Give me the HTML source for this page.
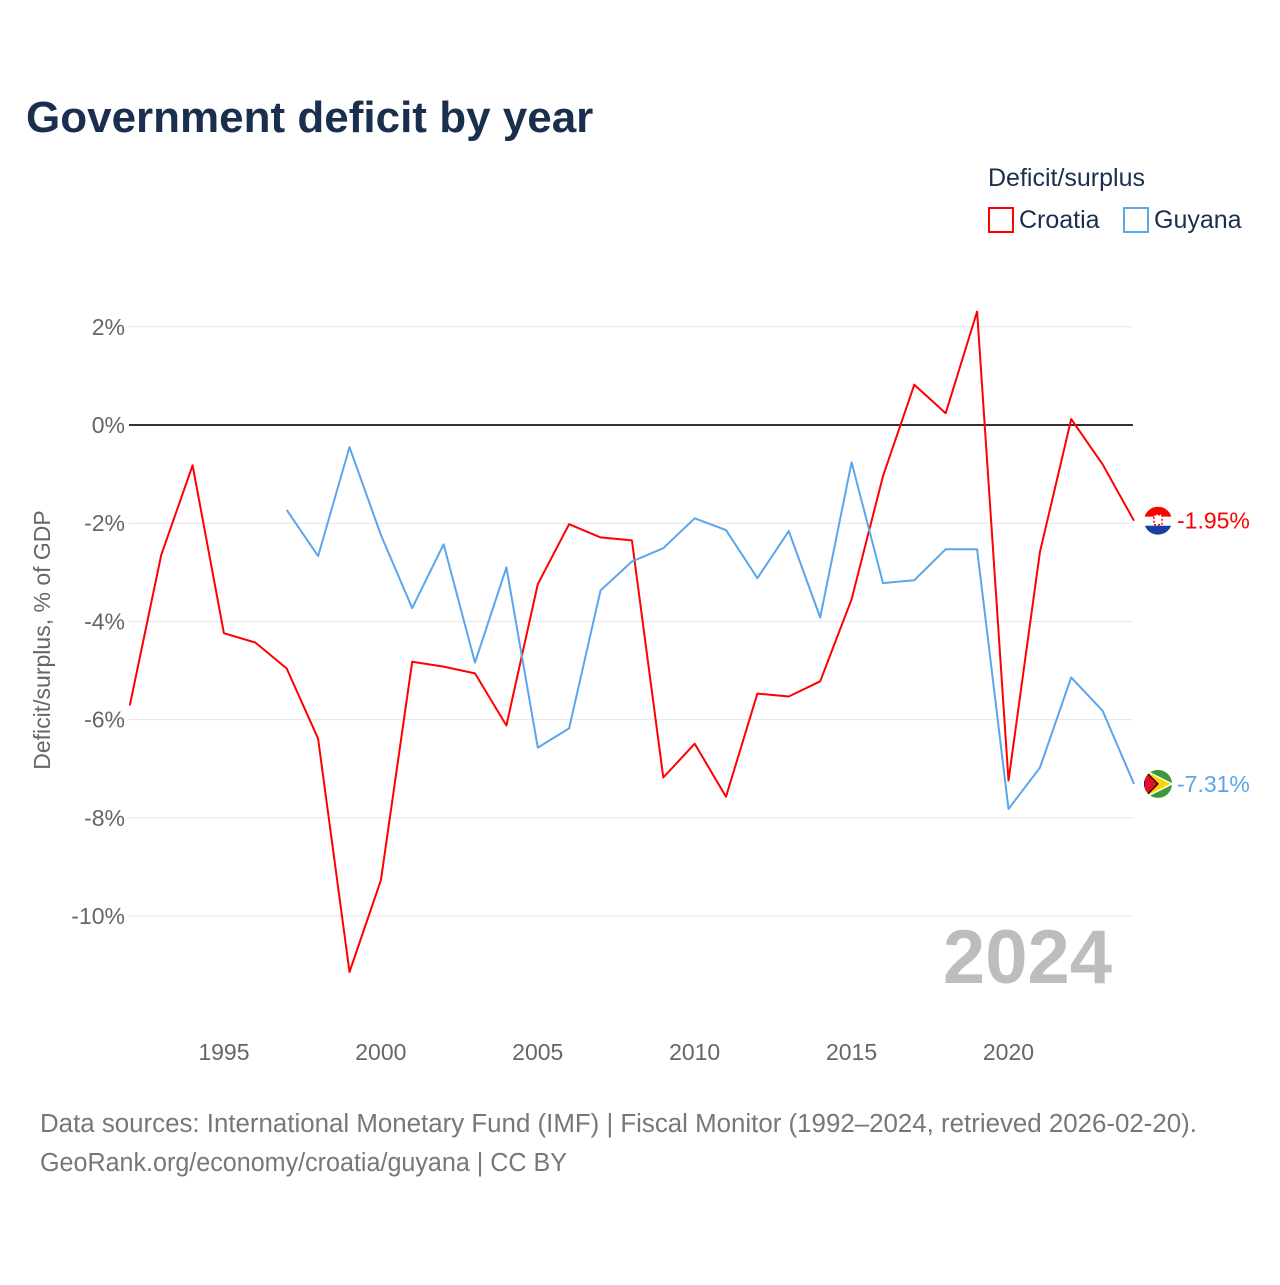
<!DOCTYPE html>
<html><head><meta charset="utf-8"><style>
body{margin:0;background:#fff;font-family:"Liberation Sans",sans-serif;}
svg text{font-family:"Liberation Sans",sans-serif;}
</style></head><body>
<svg id="chart" width="1280" height="1280" xmlns="http://www.w3.org/2000/svg">
<defs>
<clipPath id="cc"><circle cx="0" cy="0" r="14"/></clipPath>
</defs>
<text x="26" y="132" font-size="44" font-weight="bold" fill="#1a2e4d">Government deficit by year</text>
<text x="988" y="186" font-size="25" fill="#1a2e4d">Deficit/surplus</text>
<g><rect x="989" y="208" width="24" height="24" fill="none" stroke="#ff0000" stroke-width="2"/><text x="1019" y="228" font-size="25" fill="#1a2e4d">Croatia</text></g>
<g><rect x="1124" y="208" width="24" height="24" fill="none" stroke="#5aa6ec" stroke-width="2"/><text x="1154" y="228" font-size="25" fill="#1a2e4d">Guyana</text></g>
<text transform="translate(50,640) rotate(-90)" text-anchor="middle" font-size="23" fill="#666">Deficit/surplus, % of GDP</text>
<g id="grid"></g><g id="axes"></g><g id="series"></g>
<text x="1112" y="983" text-anchor="end" font-size="76" font-weight="bold" fill="#bdbdbd">2024</text>
<text x="40" y="1132" font-size="25.5" fill="#777" textLength="1157" lengthAdjust="spacingAndGlyphs">Data sources: International Monetary Fund (IMF) | Fiscal Monitor (1992–2024, retrieved 2026-02-20).</text>
<text x="40" y="1171" font-size="25.5" fill="#777" textLength="527" lengthAdjust="spacingAndGlyphs">GeoRank.org/economy/croatia/guyana | CC BY</text>
</svg>
<script>
const years=[1992,1993,1994,1995,1996,1997,1998,1999,2000,2001,2002,2003,2004,2005,2006,2007,2008,2009,2010,2011,2012,2013,2014,2015,2016,2017,2018,2019,2020,2021,2022,2023,2024];
const croatia=[-5.71,-2.65,-0.82,-4.24,-4.43,-4.96,-6.39,-11.14,-9.27,-4.82,-4.92,-5.06,-6.12,-3.24,-2.02,-2.29,-2.35,-7.18,-6.49,-7.57,-5.47,-5.53,-5.22,-3.55,-1.04,0.82,0.24,2.31,-7.24,-2.59,0.12,-0.80,-1.95];
const guyana=[null,null,null,null,null,-1.73,-2.67,-0.45,-2.24,-3.73,-2.43,-4.84,-2.90,-6.57,-6.18,-3.37,-2.78,-2.51,-1.90,-2.14,-3.12,-2.16,-3.92,-0.76,-3.22,-3.16,-2.53,-2.53,-7.82,-6.98,-5.14,-5.82,-7.31];
const yTicks=[2,0,-2,-4,-6,-8,-10];
const xTicks=[1995,2000,2005,2010,2015,2020];
const NS="http://www.w3.org/2000/svg";
const x=v=>129.8+(v-1992)*(1134-129.8)/32;
const y=v=>425-v*49.1;
function mk(tag,attrs,parent,txt){const e=document.createElementNS(NS,tag);for(const k in attrs)e.setAttribute(k,attrs[k]);if(txt!=null)e.textContent=txt;(typeof parent==='string'?document.getElementById(parent):parent).appendChild(e);return e;}
yTicks.forEach(t=>{
 const l=mk('line',{x1:129,x2:1133,y1:y(t),y2:y(t),stroke:t===0?'#333':'#e6e6e6','stroke-width':t===0?2:1},'grid');
 
 
 const tx=mk('text',{x:125,y:y(t)+8,'text-anchor':'end','font-size':23,fill:'#666'},'axes',t+'%');
 
 
});
xTicks.forEach(t=>{
 const tx=mk('text',{x:x(t),y:1060,'text-anchor':'middle','font-size':23,fill:'#666'},'axes',String(t));
 
 
});
function flag(name,cy){
 const g=mk('g',{transform:'translate(1158,'+cy+')','clip-path':'url(#cc)'},'series');
 
 
 if(name==='croatia'){
  mk('rect',{x:-14,y:-14,width:28,height:10,fill:'#ff0000'},g);
  mk('rect',{x:-14,y:-4,width:28,height:9,fill:'#fff'},g);
  mk('rect',{x:-14,y:5,width:28,height:9,fill:'#1740a0'},g);
  mk('rect',{x:-4,y:-6,width:8,height:10,fill:'#fff',stroke:'#ff0000','stroke-width':1.5,'stroke-dasharray':'2 2'},g);
 } else {
  mk('rect',{x:-14,y:-14,width:28,height:28,fill:'#3a9a3a'},g);
  mk('polygon',{points:'-14,-14 14,0 -14,14',fill:'#ffd200',stroke:'#fff','stroke-width':1.5},g);
  mk('polygon',{points:'-14,-14 0,0 -14,14',fill:'#e0102a',stroke:'#000','stroke-width':1.2},g);
 }
}
function line(vals,color,name){
 let d='';vals.forEach((v,i)=>{if(v==null)return;d+=(d?'L':'M')+x(years[i]).toFixed(1)+','+y(v).toFixed(1);});
 const p=mk('path',{d:d,fill:'none',stroke:color,'stroke-width':2,'stroke-linejoin':'round'},'series');
 
 
 const last=vals[vals.length-1];
 flag(name,y(last));
 const t=mk('text',{x:1177,y:y(last)+8,'font-size':23,fill:color},'series',last.toFixed(2)+'%');
 
 
}
line(croatia,'#ff0000','croatia');
line(guyana,'#5aa6ec','guyana');
</script>
</body></html>
